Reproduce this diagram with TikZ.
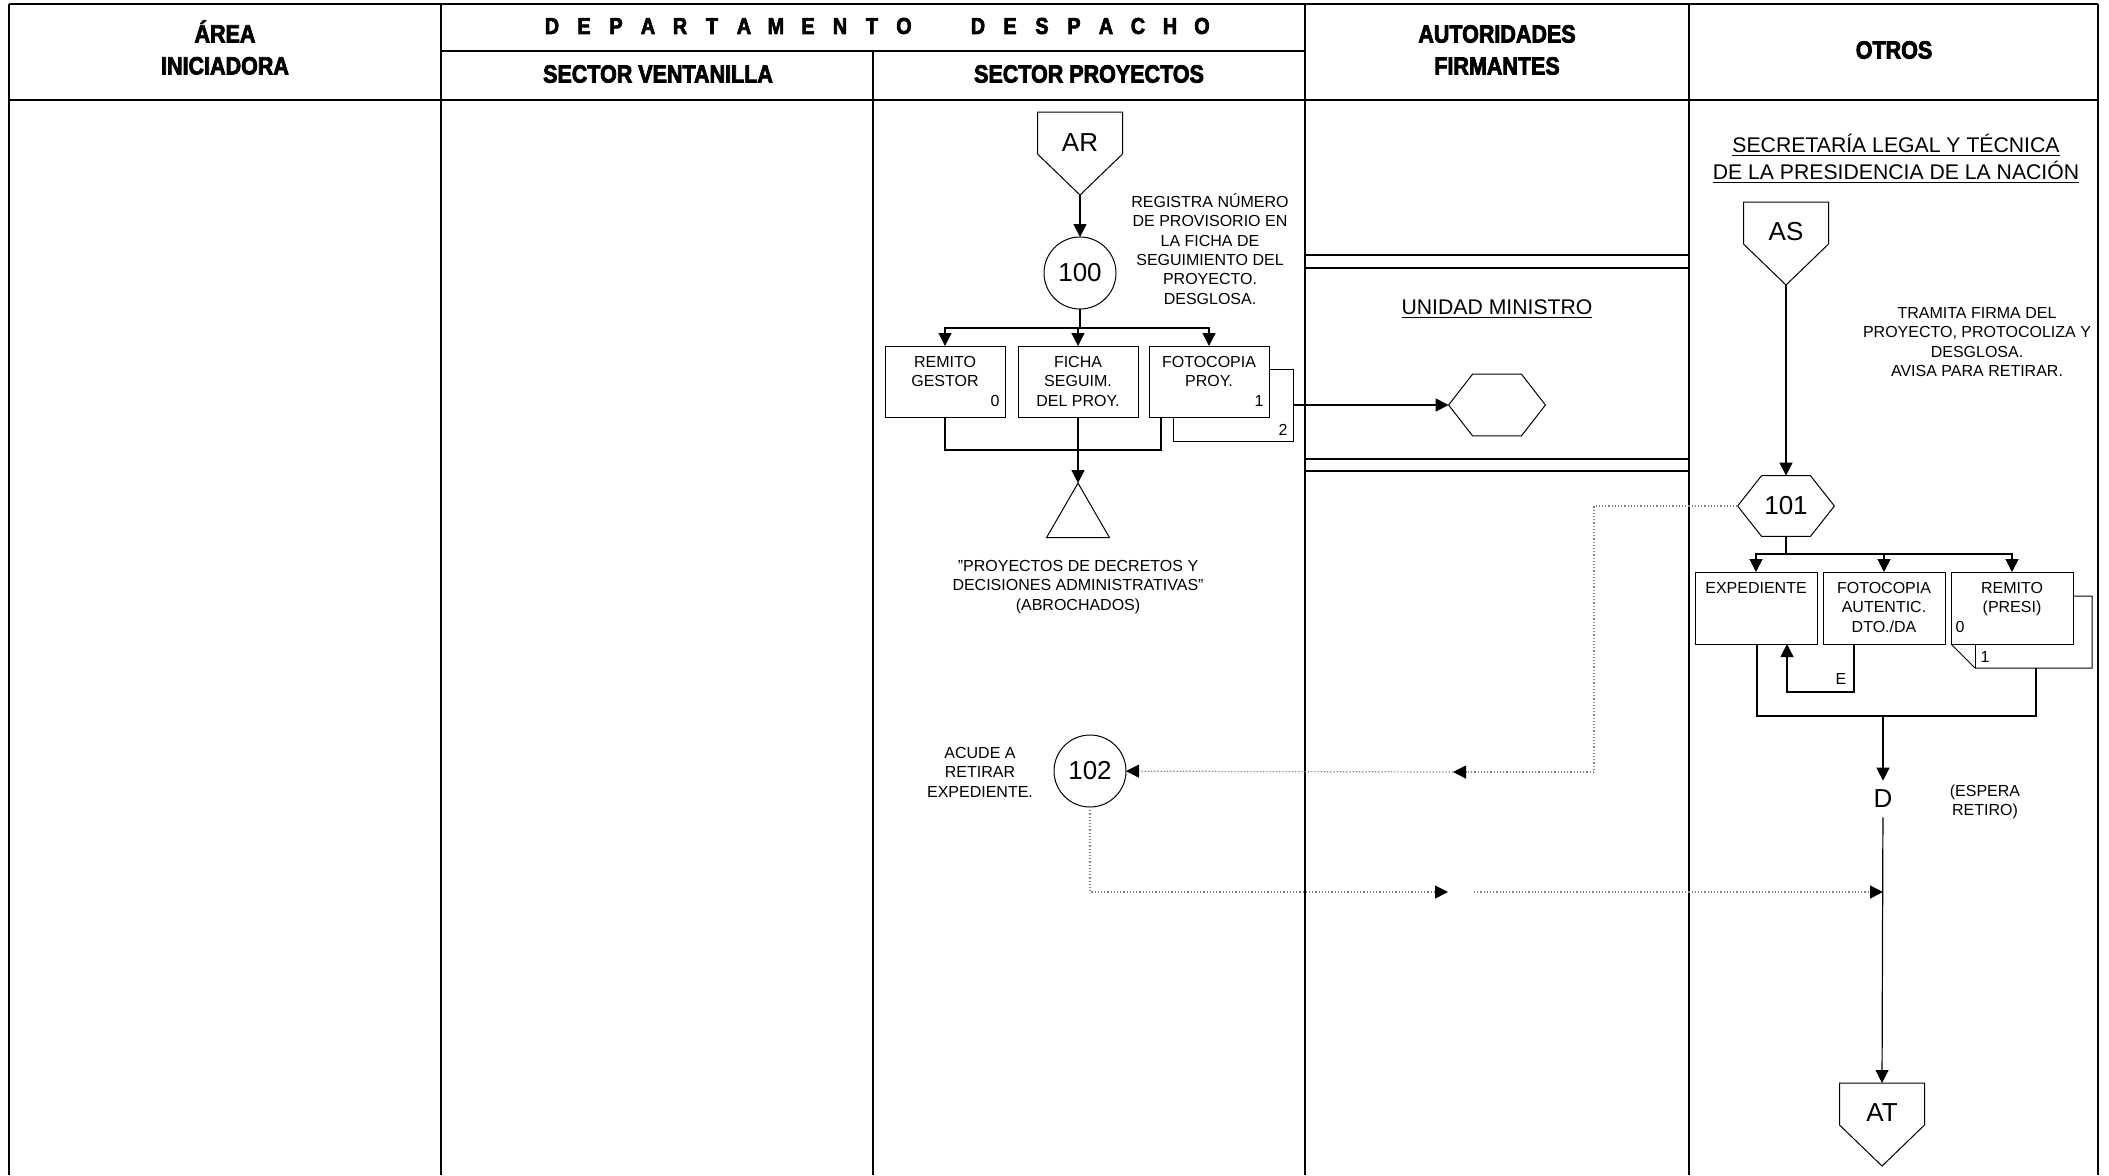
\documentclass[tikz,border=0pt]{standalone}
\usepackage{fontspec}
\setmainfont{Liberation Sans}
\newfontfamily\hdrfont[FakeStretch=0.86,FakeBold=3]{Liberation Sans}
\usetikzlibrary{arrows.meta,shapes.geometric,calc}
\newcommand\spl[1]{\makebox[16pt]{#1}}
\newcommand\offpage[3]{%
  \draw[line width=0.5pt,fill=white] (#2-42.5,#3) -- (#2+42.5,#3) -- (#2+42.5,#3+42) -- (#2,#3+83) -- (#2-42.5,#3+42) -- cycle;
  \coordinate (#1tip) at (#2,#3+83);
  \coordinate (#1top) at (#2,#3);}
\newcommand\hexdraw[1]{\draw[line width=0.5pt] (#1.west) -- ($(#1.north west)+(24,0)$) -- ($(#1.north east)+(-24,0)$) -- (#1.east) -- ($(#1.south east)+(-24,0)$) -- ($(#1.south west)+(24,0)$) -- cycle;}
\begin{document}
\begin{tikzpicture}[x=0.5pt,y=-0.5pt,
  grid/.style={line width=0.8pt},
  shp/.style={draw,line width=0.5pt,inner sep=0pt,outer sep=0pt,fill=white},
  con/.style={line width=0.6pt},
  arr/.style={con,-{Triangle[length=6.5pt,width=6.5pt]}},
  dotl/.style={line width=0.6pt,gray,densely dotted},
  dotarr/.style={dotl,-{Triangle[length=6.5pt,width=6.5pt,color=black]}},
  hd/.style={font=\hdrfont\bfseries\fontsize{12.5}{16}\selectfont,align=center,inner sep=0pt},
  sm/.style={font=\fontsize{8}{9.7}\selectfont,align=center,inner sep=0pt},
  lg/.style={font=\fontsize{13}{15}\selectfont,inner sep=0pt},
  md/.style={font=\fontsize{10.6}{13.5}\selectfont,inner sep=0pt},
]
\useasboundingbox[fill=white] (0,0) rectangle (2109,1175);
% grid
\draw[grid] (9,4) -- (2098,4);
\draw[grid] (9,100) -- (2098,100);
\draw[grid] (441,51) -- (1305,51);
\foreach \x in {9,441,1305,1689,2098} \draw[grid] (\x,4) -- (\x,1175);
\draw[grid] (873,51) -- (873,1175);
\foreach \y in {255,268,459,471} \draw[grid] (1305,\y) -- (1689,\y);
% headers
\node[hd] (hArea) at (225,47.5) {ÁREA\\INICIADORA};
\node[hd,font=\hdrfont\bfseries\fontsize{11.5}{14}\selectfont] (hDept) at (877,26) {\spl{D}\spl{E}\spl{P}\spl{A}\spl{R}\spl{T}\spl{A}\spl{M}\spl{E}\spl{N}\spl{T}\spl{O}\hspace{21pt}\spl{D}\spl{E}\spl{S}\spl{P}\spl{A}\spl{C}\spl{H}\spl{O}};
\node[hd] (hVent) at (658,74) {SECTOR VENTANILLA};
\node[hd] (hProy) at (1089,74) {SECTOR PROYECTOS};
\node[hd] (hAut) at (1497,50) {AUTORIDADES\\FIRMANTES};
\node[hd] (hOtros) at (1894,50) {OTROS};
% sector proyectos
\offpage{AR}{1080}{112}
\node[lg] (AR) at (1080,143) {AR};
\node[shp,circle,minimum size=36pt,lg] (c100) at (1080,273) {100};
\draw[arr] (ARtip) -- (c100);
\node[sm,anchor=north] (tR) at (1210,193) {REGISTRA NÚMERO\\DE PROVISORIO EN\\LA FICHA DE\\SEGUIMIENTO DEL\\PROYECTO.\\DESGLOSA.};
\node[shp,minimum width=60pt,minimum height=35.5pt] (bxA) at (945,381.5) {};
\node[shp,minimum width=60pt,minimum height=35.5pt] (bxB) at (1078,381.5) {};
\node[shp,minimum width=60pt,minimum height=36pt] (bxC2) at (1233,405) {};
\node[shp,minimum width=60pt,minimum height=35.5pt] (bxC) at (1209,381.5) {};
\node[sm,anchor=north] (tA) at (945,356) {REMITO\\GESTOR};
\node[sm] (nA) at (995,401) {0};
\node[sm,anchor=north] (tB) at (1078,356) {FICHA\\SEGUIM.\\DEL PROY.};
\node[sm,anchor=north] (tC) at (1209,356) {FOTOCOPIA\\PROY.};
\node[sm] (nC) at (1259,401) {1};
\node[sm] (nC2) at (1283,430) {2};
\coordinate (br1) at (1080,328);
\draw[con] (c100) -- (br1);
\draw[arr] (br1) -| (bxA);
\draw[arr] (br1) -| (bxB);
\draw[arr] (br1) -| (bxC);
\coordinate (j1) at (1161,450);
\draw[con] (bxA.south) |- (j1) -- (j1 |- bxC.south);
\node[shp,regular polygon,regular polygon sides=3,minimum size=36.4pt] (tri) at (1078,519.5) {};
\draw[arr] (bxB.south) -- (tri.corner 1);
\node[sm,anchor=north] (tT) at (1078,560) {"PROYECTOS DE DECRETOS Y\\DECISIONES ADMINISTRATIVAS"\\(ABROCHADOS)};
% unidad ministro
\node[md,anchor=base] (um) at (1497,314) {\underline{UNIDAD MINISTRO}};
\node[inner sep=0pt,minimum width=48pt,minimum height=30.5pt] (hexU) at (1497,405) {};
\hexdraw{hexU}
\draw[arr] (bxC2.east) -- (hexU.west);
% otros
\node[md,anchor=base] (sec1) at (1896,152.6) {\underline{SECRETARÍA LEGAL Y TÉCNICA}};
\node[md,anchor=base] (sec2) at (1896,179.6) {\underline{DE LA PRESIDENCIA DE LA NACIÓN}};
\offpage{AS}{1786}{202}
\node[lg] (AS) at (1786,232) {AS};
\node[sm,anchor=north] (tTr) at (1977,307) {TRAMITA FIRMA DEL\\PROYECTO, PROTOCOLIZA Y\\DESGLOSA.\\AVISA PARA RETIRAR.};
\node[inner sep=0pt,minimum width=48pt,minimum height=30pt,lg] (h101) at (1786,506) {101};
\hexdraw{h101}
\draw[arr] (AStip) -- (h101.north);
\coordinate (br2) at (1786,554);
\draw[con] (h101.south) -- (br2);
\draw[line width=0.5pt,fill=white] (2073,596) -- (2092,596) -- (2092,668) -- (1975,668) -- (1951,644);
\draw[line width=0.5pt] (1975,644) -- (1975,668);
\node[shp,minimum width=61pt,minimum height=36pt] (bxE) at (1756,608) {};
\node[shp,minimum width=61pt,minimum height=36pt] (bxF) at (1884,608) {};
\node[shp,minimum width=61pt,minimum height=36pt] (bxG) at (2012,608) {};
\draw[arr] (br2) -| (bxE);
\draw[arr] (br2) -| (bxF);
\draw[arr] (br2) -| (bxG);
\node[sm,anchor=north] (tE) at (1756,582) {EXPEDIENTE};
\node[sm,anchor=north] (tF) at (1884,582) {FOTOCOPIA\\AUTENTIC.\\DTO./DA};
\node[sm,anchor=north] (tG) at (2012,582) {REMITO\\(PRESI)};
\node[sm] (nG0) at (1960,627) {0};
\node[sm] (nG1) at (1985,657) {1};
\node[sm] (nE) at (1841,679) {E};
\coordinate (e1) at (1854,692);
\coordinate (e2) at (1787,692);
\draw[arr] (e1 |- bxF.south) -- (e1) -- (e2) -- (e2 |- bxE.south);
\coordinate (o1) at (1757,716);
\coordinate (o2) at (2036,716);
\coordinate (gS) at (2036,668);
\draw[con] (o1 |- bxE.south) -- (o1) -- (o2) -- (gS);
\node[lg,inner sep=4.5pt] (Dn) at (1883,799) {D};
\coordinate (o3) at (1883,716);
\draw[arr] (o3) -- (Dn);
\node[sm,anchor=north] (tEsp) at (1985,784) {(ESPERA\\RETIRO)};
\offpage{AT}{1882}{1083}
\node[lg] (AT) at (1882,1113) {AT};
\draw[arr] (Dn) -- (ATtop);
% 102 and dotted
\node[shp,circle,minimum size=36pt,lg] (c102) at (1090,771) {102};
\node[sm,anchor=north] (tAc) at (980,747) {ACUDE A\\RETIRAR\\EXPEDIENTE.};
\coordinate (q2) at (1594,772);
\coordinate (m1) at (1453,772);
\draw[dotl] (h101.west) -| (q2);
\draw[dotarr] (q2) -- (m1);
\draw[dotarr] (m1) -- (c102);
\coordinate (p2) at (1448,892);
\coordinate (p3) at (1474,892);
\coordinate (dj) at (1883,892);
\draw[dotarr] (c102) |- (p2);
\draw[dotarr] (p3) -- (dj);
\end{tikzpicture}
\end{document}
